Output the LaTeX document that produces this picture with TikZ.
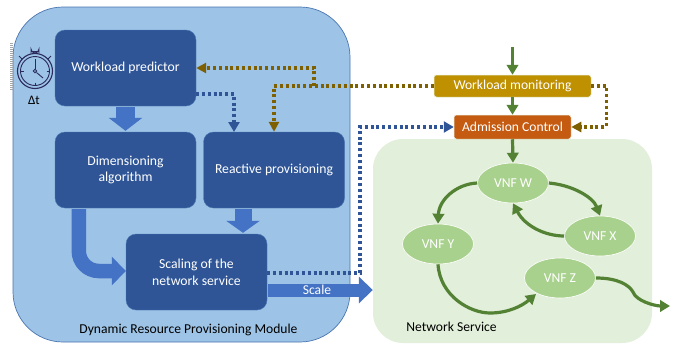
\documentclass[tikz,border=0pt]{standalone}
\usepackage{fontspec}
\setmainfont{Carlito}
\usetikzlibrary{arrows.meta,calc,shapes.geometric}
\definecolor{modfill}{HTML}{9DC3E6}
\definecolor{modline}{HTML}{4A76B0}
\definecolor{dblue}{HTML}{2F5597}
\definecolor{mblue}{HTML}{4472C4}
\definecolor{nsfill}{HTML}{E2EFDA}
\definecolor{vnffill}{HTML}{A9D18E}
\definecolor{dgreen}{HTML}{548235}
\definecolor{brown}{HTML}{7F6000}
\definecolor{gold}{HTML}{BF9000}
\definecolor{orng}{HTML}{C55A11}
\definecolor{watch}{HTML}{2A2A5E}
\tikzset{
  x=1pt,y=-1pt,
  blockbox/.style={rectangle,rounded corners=10,fill=dblue,text=white,draw=modline,line width=0.4,minimum width=141,minimum height=76,inner sep=0pt,align=center,font=\fontsize{13.7}{16.8}\selectfont},
  vnf/.style={ellipse,fill=vnffill,draw=white,line width=0.6,minimum width=71,minimum height=40,inner sep=0pt,text=white,font=\fontsize{13.6}{16}\selectfont},
  ctrl/.style={rectangle,rounded corners=2.5,draw=nsfill,line width=0.5,text=white,inner sep=0pt,font=\fontsize{13.6}{16}\selectfont},
  dotb/.style={draw=dblue,line width=3.2,dash pattern=on 3 off 2.8},
  dotbr/.style={draw=brown,line width=3.2,dash pattern=on 3 off 2.8},
  tipb/.style={-{Triangle[length=10,width=11,fill=dblue,sep=0pt]}},
  tipbr/.style={-{Triangle[length=10,width=10,fill=brown]}},
  flow/.style={draw=dgreen,line width=3.2,-{Triangle[length=10,width=11.5]}},
  bigarrow/.style={draw=mblue,line width=#1},
}
\begin{document}
\begin{tikzpicture}
\useasboundingbox (0,0) rectangle (680,343);
% panels
\node[rectangle,rounded corners=50,fill=modfill,draw=modline,line width=0.7,minimum width=337,minimum height=335,inner sep=0pt] (mod) at (181.5,174.5) {};
\node[rectangle,rounded corners=30,fill=nsfill,minimum width=279,minimum height=204,inner sep=0pt] (ns) at (512.5,241) {};
% stopwatch strip
\draw[gray!70,line width=2.6,dash pattern=on 1 off 1] (11.6,43) -- (11.6,91);
% boxes
\node[blockbox] (pred) at (125.5,68) {Workload predictor};
\node[blockbox] (dim) at (125.5,170) {Dimensioning\\algorithm};
\node[blockbox] (react) at (274,170) {Reactive provisioning};
\node[blockbox] (scale) at (196.5,272) {Scaling of the\\network service};
\node[ctrl,fill=gold,minimum width=157,minimum height=22] (mon) at (512.5,86) {Workload monitoring};
\node[ctrl,fill=orng,minimum width=117,minimum height=24] (adm) at (512.5,127) {Admission Control};
\node[vnf] (w) at (513,183) {VNF W};
\node[vnf] (x) at (600,236) {VNF X};
\node[vnf] (y) at (438,244) {VNF Y};
\node[vnf] (z) at (560,278) {VNF Z};
% labels
\node[inner sep=0pt,font=\fontsize{13.6}{16}\selectfont] (modl) at (188.5,330) {Dynamic Resource Provisioning Module};
\node[inner sep=0pt,font=\fontsize{13.6}{16}\selectfont] (nsl) at (451.5,327) {Network Service};
\node[inner sep=0pt,font=\fontsize{13}{16}\selectfont] (dt) at (34,100) {Δt};
% stopwatch
\coordinate (sw) at (35,71);
\begin{scope}[draw=watch,line width=0.9]
\draw[line width=1.1] (sw) circle[radius=17.5];
\draw (sw) circle[radius=14.5];
\draw ($(sw)+(-4,-17.5)$) -- ($(sw)+(-4,-22)$) arc[start angle=180,end angle=0,radius=4] -- ($(sw)+(4,-17.5)$);
\draw ($(sw)+(-4,-20)$) -- ($(sw)+(4,-20)$);
\draw ($(sw)+(-16,-15)$) -- ($(sw)+(-13,-12)$) ($(sw)+(16,-15)$) -- ($(sw)+(13,-12)$);
\draw ($(sw)+(0,-12)$) -- ($(sw)+(0,-2)$);
\draw ($(sw)+(1.5,1.5)$) -- ($(sw)+(8,7)$);
\draw (sw) circle[radius=1.8];
\draw ($(sw)+(11.5,0)$) -- ($(sw)+(14.5,0)$) ($(sw)+(-11.5,0)$) -- ($(sw)+(-14.5,0)$) ($(sw)+(0,11.5)$) -- ($(sw)+(0,14.5)$);
\end{scope}
% block arrows
\draw[bigarrow=19,-{Triangle[length=13,width=33,fill=mblue]}] ($(pred.south)+(0,1)$) -- ($(dim.north)+(0,-1)$);
\draw[bigarrow=17,-{Triangle[length=12,width=33,fill=mblue]}] ($(react.south)+(-31,0.5)$) -- ($(scale.north)+(46.5,-1)$);
\draw[bigarrow=14.5,rounded corners=20,-{Triangle[length=14,width=28,fill=mblue]}] ($(dim.south west)+(24,1)$) |- (scale.west |- 0,271);
\draw[bigarrow=13,-{Triangle[length=14,width=26,fill=mblue]}] ($(scale.east |- 0,290)+(1,0)$) -- (ns.west |- 0,290);
\node[inner sep=0pt,text=white,font=\fontsize{13.6}{16}\selectfont] (scl) at (317,290) {Scale};
% dotted
\coordinate (j1) at (314,86);
\draw[dotbr,tipbr] (mon.west) -| (react.north);
\draw[dotbr,tipbr] (j1) |- (pred.east);
\draw[dotbr,tipbr] (mon.east) -- ++(15,0) |- (adm.east);
\draw[dotb,tipb] (pred.east |- 0,94) -| (234,132);
\draw[dotb,tipb] (scale.east |- 0,273) -- (360,273) |- (adm.west);
% green flows
\coordinate (in) at (512.5,47);
\coordinate (outz) at (670,306);
\draw[flow] (in) -- (mon.north);
\draw[flow] (mon.south) -- (adm.north);
\draw[flow] (adm.south) -- (w.north);
\draw[flow] (w.west) .. controls (456,184) and (439,200) .. (y.north);
\draw[flow] (w.east) .. controls (572,185) and (593,197) .. (x.north);
\draw[flow] (x.west) .. controls (545,236) and (525,226) .. (w.south);
\draw[flow] (y.south) .. controls (440,296) and (470,313) .. (490,313) .. controls (508,313) and (522,306) .. (536,294);
\draw[flow] (z.east) .. controls (618,278) and (629,285) .. (633,292) .. controls (636,301) and (655,306) .. (outz);
\end{tikzpicture}
\end{document}
